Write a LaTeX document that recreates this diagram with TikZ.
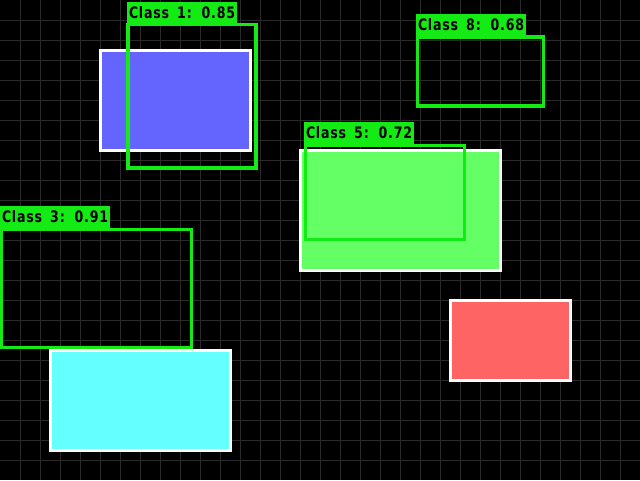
\documentclass[tikz,border=0pt]{standalone}
\usepackage{fontspec}
\setmainfont{DejaVu Sans}
\newfontfamily\labfont[LetterSpace=6,WordSpace=1.6]{DejaVu Sans}
\definecolor{gridgray}{RGB}{42,42,42}
\definecolor{bluefill}{RGB}{100,100,255}
\definecolor{greenfill}{RGB}{100,255,100}
\definecolor{cyanfill}{RGB}{100,255,255}
\definecolor{redfill}{RGB}{255,100,100}
\definecolor{detgreen}{RGB}{20,235,20}
\newcommand{\labtext}[1]{\resizebox{106pt}{12pt}{\labfont\bfseries #1}}
\begin{document}
\begin{tikzpicture}[x=1pt,y=-1pt,
  every node/.style={inner sep=0pt,outer sep=0pt},
  obj/.style={draw=white,line width=2.8pt},
  det/.style={draw=detgreen,line width=3.2pt},
  lab/.style={fill=detgreen,text=black,anchor=south west,inner xsep=2pt,inner ysep=5pt}]
\useasboundingbox (0,0) rectangle (640,480);
\fill[black] (0,0) rectangle (640,480);
\foreach \i in {20,40,...,620} \draw[gridgray,line width=1pt] (\i,0) -- (\i,480);
\foreach \j in {20,40,...,460} \draw[gridgray,line width=1pt] (0,\j) -- (640,\j);
% objects
\draw[obj,fill=bluefill] (100.5,50.5) rectangle (250.5,150.5);
\draw[obj,fill=greenfill] (300.5,150.5) rectangle (500.5,270.5);
\draw[obj,fill=cyanfill] (50.5,350.5) rectangle (230.5,450.5);
\draw[obj,fill=redfill] (450.5,300.5) rectangle (570.5,380.5);
% detections
\draw[det] (128,24.5) rectangle (256,168);
\node[lab] (l1) at (127,24) {\labtext{Class 1: 0.85}};
\draw[det] (417.5,37) rectangle (543.5,106);
\node[lab] (l8) at (416,36) {\labtext{Class 8: 0.68}};
\draw[det] (305.5,145.5) rectangle (464.5,239.5);
\node[lab] (l5) at (304,144) {\labtext{Class 5: 0.72}};
\draw[det] (1.5,229.5) rectangle (191.5,347.5);
\node[lab] (l3) at (0,228) {\labtext{Class 3: 0.91}};
\end{tikzpicture}
\end{document}
